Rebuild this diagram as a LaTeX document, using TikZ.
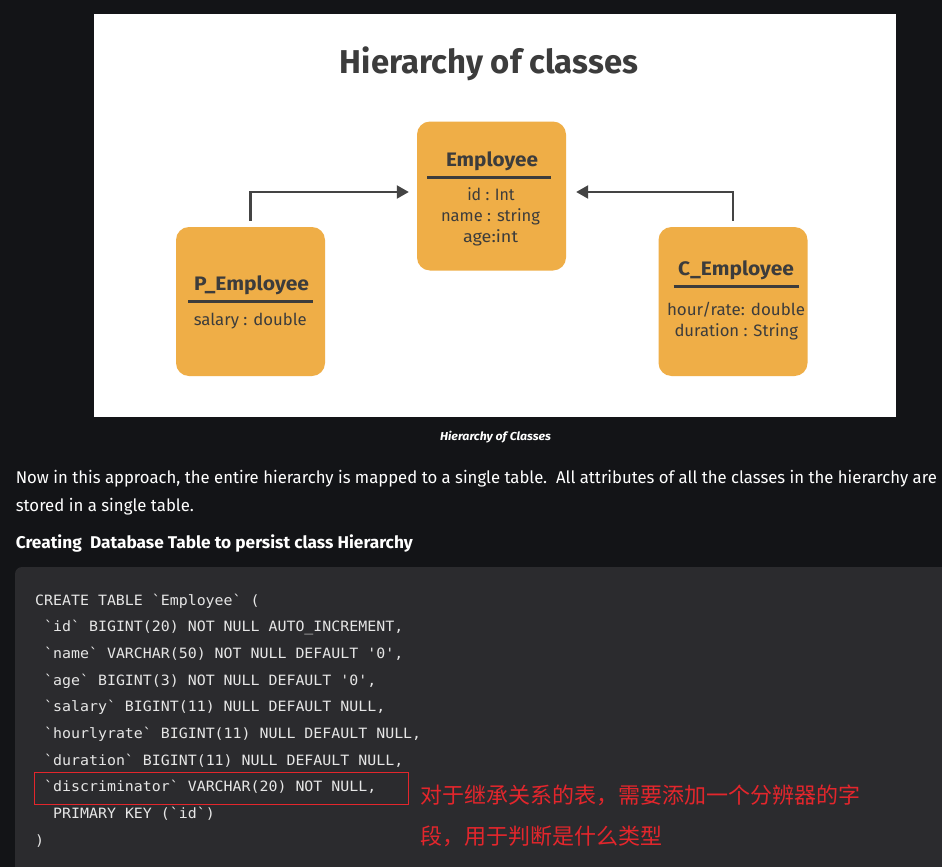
\documentclass[tikz,border=0pt]{standalone}
\usepackage{fontspec}
\usepackage{graphicx}
\setmainfont{Fira Sans}
\setmonofont[FakeStretch=1.05]{DejaVu Sans Mono}
\newfontfamily\cjk{Noto Sans CJK SC}
\usetikzlibrary{arrows.meta}
\definecolor{pagebg}{HTML}{131417}
\definecolor{codebg}{HTML}{2B2B2E}
\definecolor{clsorange}{HTML}{EFAE47}
\definecolor{ink}{HTML}{3C3C3C}
\definecolor{arrowc}{HTML}{444444}
\definecolor{redc}{HTML}{E3262C}
\definecolor{codefg}{HTML}{E6E6E6}
\newcommand\fw[2]{\resizebox{#1}{\height}{#2}}
\tikzset{
  cls/.style={fill=clsorange, rounded corners=13pt, minimum width=149pt, minimum height=149pt, inner sep=0},
  lbl/.style={inner sep=0, anchor=base, text=ink},
  clstitle/.style={lbl, font=\bfseries\fontsize{19.5}{20}\selectfont},
  clsattr/.style={lbl, font=\fontsize{16.5}{17}\selectfont},
  uline/.style={draw=ink, line width=3pt},
  inherit/.style={draw=arrowc, line width=2.2pt, -{Triangle[length=12pt,width=13pt]}},
  para/.style={inner sep=0, anchor=base west, text=white, font=\fontsize{17}{18}\selectfont},
  codeline/.style={inner sep=0, anchor=base west, text=codefg, font=\ttfamily\fontsize{14.2}{15}\selectfont},
  note/.style={inner sep=0, anchor=base west, text=redc, font=\cjk\fontsize{22}{22}\selectfont},
}
\begin{document}
\begin{tikzpicture}[x=1pt,y=-1pt]
\useasboundingbox (0,0) rectangle (942,867);
\clip (0,0) rectangle (942,867);
\fill[pagebg] (0,0) rectangle (942,867);
% white panel
\fill[white] (94,14) rectangle (896,417);
\node[lbl, font=\bfseries\fontsize{33}{34}\selectfont] (title) at (489,73.5) {\fw{298pt}{Hierarchy of classes}};
% class boxes
\node[cls] (emp) at (491.5,196) {};
\node[cls] (pemp) at (250.5,301.5) {};
\node[cls] (cemp) at (733,301.5) {};
% Employee
\node[clstitle] (empt) at (492,166.7) {\fw{92pt}{Employee}};
\draw[uline] (427,177) -- (551,177);
\node[clsattr] (empa) at (491,200.5) {\fw{47.5pt}{id : Int}};
\node[clsattr] (empb) at (490.5,221) {\fw{99pt}{name : string}};
\node[clsattr] (empc) at (490.5,242) {\fw{55pt}{age:int}};
% P_Employee
\node[clstitle] (pempt) at (251.5,290.7) {\fw{115pt}{P\_Employee}};
\draw[uline] (188,301) -- (313,301);
\node[clsattr] (pempa) at (250.3,325.7) {\fw{113pt}{salary : double}};
% C_Employee
\node[clstitle] (cempt) at (736,275.7) {\fw{116pt}{C\_Employee}};
\draw[uline] (673.5,286) -- (799,286);
\node[clsattr] (cempa) at (736,315.7) {\fw{138pt}{hour/rate: double}};
\node[clsattr] (cempb) at (736.3,336.7) {\fw{123.6pt}{duration : String}};
% inheritance arrows
\draw[inherit] ([yshift=6pt]pemp.north) |- ([xshift=-8pt,yshift=4pt]emp.west);
\draw[inherit] ([yshift=6pt]cemp.north) |- ([xshift=10pt,yshift=4pt]emp.east);
% caption and paragraph
\node[inner sep=0, anchor=base, text=white, font=\bfseries\itshape\fontsize{11.5}{12}\selectfont] (cap) at (495.5,440.7) {\fw{111pt}{Hierarchy of Classes}};
\node[para] (p1) at (15.6,483.3) {\fw{921pt}{Now in this approach, the entire hierarchy is mapped to a single table.\ \ All attributes of all the classes in the hierarchy are}};
\node[para] (p2) at (15.6,511.7) {\fw{178pt}{stored in a single table.}};
\node[para, font=\bfseries\fontsize{17}{18}\selectfont] (head) at (15.6,548.3) {\fw{397pt}{Creating\ \ Database Table to persist class Hierarchy}};
% code panel
\fill[codebg, rounded corners=7pt] (15,567) rectangle (980,900);
\node[codeline] (c0) at (35,605) {CREATE TABLE `Employee` (};
\node[codeline] (c1) at (44,631.7) {`id` BIGINT(20) NOT NULL AUTO\_INCREMENT,};
\node[codeline] (c2) at (44,658.4) {`name` VARCHAR(50) NOT NULL DEFAULT '0',};
\node[codeline] (c3) at (44,685.1) {`age` BIGINT(3) NOT NULL DEFAULT '0',};
\node[codeline] (c4) at (44,711.8) {`salary` BIGINT(11) NULL DEFAULT NULL,};
\node[codeline] (c5) at (44,738.5) {`hourlyrate` BIGINT(11) NULL DEFAULT NULL,};
\node[codeline] (c6) at (44,765.2) {`duration` BIGINT(11) NULL DEFAULT NULL,};
\node[codeline] (c7) at (44,791.9) {`discriminator` VARCHAR(20) NOT NULL,};
\node[codeline] (c8) at (53,818.6) {PRIMARY KEY (`id`)};
\node[codeline] (c9) at (35,845.3) {)};
% highlight and note
\node[draw=redc, line width=1pt, inner sep=0, minimum width=373.5pt, minimum height=31.4pt, anchor=north west] (hl) at (34,772.3) {};
\node[note] (n1) at (420.5,803.5) {对于继承关系的表，需要添加一个分辨器的字};
\node[note] (n2) at (420.5,844.5) {段，用于判断是什么类型};
\end{tikzpicture}
\end{document}
